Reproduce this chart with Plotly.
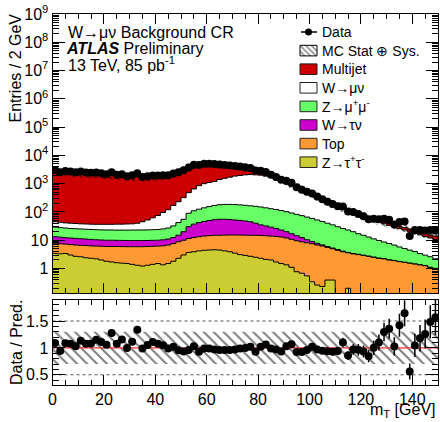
import numpy as np
import plotly.graph_objects as go

# ---------------- data (per 2 GeV bin, bin centres 1..149 GeV) ----------------
bin_edges = list(range(0, 152, 2))

ztautau = [3.4, 3.3, 3.4, 3.0, 2.7, 2.6, 2.4, 2.3, 2.2, 2.0,
           1.8, 1.7, 1.6, 1.55, 1.5, 1.4, 1.3, 1.22, 1.3, 1.4,
           1.5, 1.35, 1.5, 1.8, 2.3, 3.0, 3.7, 3.9, 4.2, 4.4,
           4.5, 4.6, 4.5, 4.2, 3.9, 3.5, 3.1, 2.9, 2.7, 2.5,
           2.3, 2.1, 2.0, 1.7, 1.5, 1.35, 1.1, 0.77, 0.68, 0.55,
           0.34, 0.26, 0.23, 0.39, 0.39, 0, 0, 0.2, 0, 0,
           0, 0, 0, 0, 0, 0, 0, 0, 0, 0, 0, 0, 0, 0, 0]
top = [4.4, 4.2, 3.9, 4.0, 4.1, 4.0, 4.1, 4.0, 4.0, 4.1,
       4.2, 4.3, 4.4, 4.4, 4.4, 4.5, 4.6, 4.7, 4.7, 4.7,
       4.7, 5.0, 5.3, 5.8, 6.5, 7.0, 7.8, 8.6, 9.1, 9.6,
       10.0, 10.4, 10.5, 11.0, 11.4, 11.8, 12.1, 12.2, 12.3, 12.5,
       12.5, 12.3, 12.0, 11.9, 11.5, 10.7, 9.7, 8.8, 8.1, 7.6,
       7.2, 6.5, 6.0, 5.2, 4.6, 4.4, 3.9, 3.4, 3.3, 3.1,
       2.9, 2.7, 2.5, 2.3, 2.2, 2.0, 1.9, 1.75, 1.65, 1.55, 1.45, 1.35, 1.25, 1.1, 1.0]
wtaunu = [5.5, 5.3, 5.0, 5.0, 4.8, 4.7, 4.5, 4.4, 4.2, 4.1,
          4.0, 4.0, 3.9, 3.9, 3.9, 3.8, 3.8, 3.8, 3.8, 3.8,
          3.8, 4.0, 4.2, 4.9, 6.2, 10, 18.5, 24.5, 28.7, 32,
          35.5, 38, 40, 39.8, 38.7, 36.7, 34.8, 32.6, 30, 25,
          20.2, 17.6, 15, 12.4, 10, 8, 6.2, 4.9, 3.7, 2.3,
          1.5, 1.0, 0.6, 0.4, 0.3, 0.3, 0.2, 0.1, 0.1, 0.08,
          0.07, 0.06, 0.05, 0.05, 0.04, 0.04, 0.03, 0.03, 0.03, 0.02, 0.02, 0.02, 0.02, 0.01, 0.01]
zmumu = [15.7, 15.2, 14.7, 14.0, 13.9, 13.7, 13.5, 13.3, 13.1, 13.0,
         13.0, 13.0, 12.9, 13.0, 13.0, 13.2, 13.3, 13.3, 13.4, 13.6,
         14.0, 14.7, 16.0, 19.5, 27, 35, 60, 73, 83, 94,
         105, 117, 125, 130, 131, 130, 128, 124, 120, 118,
         115, 108, 101, 96, 89, 82, 75, 67.5, 61.5, 55.5,
         50, 44.2, 39.2, 34, 29.7, 25.3, 21.9, 19.3, 16.6, 13.8,
         12, 10.2, 8.6, 7.4, 6.4, 5.6, 4.8, 4.0, 3.4, 2.9, 2.5, 2.0, 1.7, 1.5, 1.2]
wmunu = [16, 15, 14, 14, 13.5, 13, 13, 13, 13, 13.3,
         13.5, 13.5, 14.2, 14.2, 14.7, 15.1, 17, 22, 28.8, 38.5,
         51, 70, 93, 138, 188, 265, 390, 540, 725, 860,
         945, 1030, 1220, 1365, 1515, 1668, 1772, 1878, 1935, 1892,
         1850, 1710, 1520, 1278, 1038, 868, 718, 588, 481, 394,
         321, 263, 214, 177, 148, 122, 101, 84, 71, 60.5,
         51.5, 44.5, 38.8, 33.8, 29.4, 25.4, 22.8, 19.7, 17.9, 15.5, 13.5, 12.1, 10.5, 9.4, 8.3]
multijet = [2755, 2657, 2559, 2480, 2401, 2332, 2262, 2193, 2123, 2063,
            2003, 1943, 1883, 1833, 1782, 1742, 1710, 1685, 1678, 1688,
            1725, 1785, 1880, 2080, 2420, 2880, 3420, 3850, 4050, 4100,
            4050, 3900, 3550, 3230, 2880, 2500, 2150, 1750, 1400, 1100,
            800, 600, 450, 380, 330, 250, 190, 140, 105, 80,
            60, 45, 35, 28, 22, 18, 15, 13, 11, 9.5,
            8.5, 7.5, 7, 6.5, 6, 6, 5.5, 5.5, 5, 5, 4.5, 4, 4, 3.5, 3.5]
data = [3050, 2540, 2830, 2720, 2510, 2680, 2480, 2410, 2490, 2330,
        2160, 2530, 2070, 2160, 1820, 1980, 2340, 1710, 1820, 1940,
        1940, 1970, 1980, 2300, 2540, 2980, 3740, 4640, 4560, 5050,
        5100, 4950, 4750, 4590, 4400, 4220, 4060, 3800, 3570, 2930,
        2860, 2600, 2080, 1730, 1380, 1260, 1070, 750, 610, 520,
        450, 350, 280, 230, 190, 160, 156, 103, 99, 84,
        70, 55, 57, 55, 57, 53, 36, 44, 46, 14, 23, 23, 22, 23, 22]
mc_rel_unc = [0.30, 0.30, 0.30, 0.30, 0.30, 0.30, 0.30, 0.30, 0.30, 0.30,
              0.30, 0.30, 0.30, 0.30, 0.30, 0.30, 0.30, 0.30, 0.30, 0.30,
              0.30, 0.30, 0.30, 0.30, 0.30, 0.30, 0.30, 0.30, 0.30, 0.30,
              0.30, 0.30, 0.30, 0.30, 0.30, 0.30, 0.30, 0.30, 0.30, 0.30,
              0.30, 0.30, 0.30, 0.30, 0.30, 0.30, 0.30, 0.30, 0.30, 0.30,
              0.30, 0.30, 0.30, 0.30, 0.30, 0.30, 0.30, 0.30, 0.30, 0.30,
              0.30, 0.30, 0.30, 0.30, 0.30, 0.30, 0.30, 0.30, 0.30, 0.30, 0.30, 0.30, 0.30, 0.30, 0.30]

components = [  # stacking order, bottom first
    ("Z→τ<sup>+</sup>τ<sup>-</sup>", ztautau, "#cccc33"),
    ("Top", top, "#ff9933"),
    ("W→τν", wtaunu, "#cc00cc"),
    ("Z→μ<sup>+</sup>μ<sup>-</sup>", zmumu, "#66ff66"),
    ("W→μν", wmunu, "#ffffff"),
    ("Multijet", multijet, "#cc0000"),
]

# ---------------- geometry (pixels) ----------------
W, H = 440, 422
def px(x): return x / W
def py(y): return 1 - y / H
XL, XR = 52.5, 438
MT, MB = 14, 293
RT, RB = 299.5, 385
FONT = "Liberation Sans, Arial, Helvetica, sans-serif"

edges = np.array(bin_edges, dtype=float)
centers = 0.5 * (edges[:-1] + edges[1:])
def step(v):
    v = np.asarray(v, dtype=float)
    return np.append(v, v[-1])

fig = go.Figure()

# baseline for stacking on log axis
fig.add_trace(go.Scatter(x=edges, y=np.full(len(edges), 1e-3), mode="lines",
                         line=dict(width=0, shape="hv"), xaxis="x", yaxis="y",
                         showlegend=False, hoverinfo="skip"))
cum = np.zeros(len(centers))
for name, vals, col in components:
    cum = cum + np.asarray(vals, dtype=float)
    fig.add_trace(go.Scatter(x=edges, y=step(np.maximum(cum, 1e-3)), mode="lines",
                             line=dict(color="black", width=1, shape="hv"),
                             fill="tonexty", fillcolor=col, xaxis="x", yaxis="y",
                             name=name, showlegend=False, hoverinfo="skip"))
pred = cum.copy()
unc = np.asarray(mc_rel_unc)
data_arr = np.asarray(data, dtype=float)

# MC uncertainty band (main)
fig.add_trace(go.Scatter(x=edges, y=step(pred * (1 - unc)), mode="lines",
                         line=dict(width=0, shape="hv"), xaxis="x", yaxis="y",
                         showlegend=False, hoverinfo="skip"))
fig.add_trace(go.Scatter(x=edges, y=step(pred * (1 + unc)), mode="lines",
                         line=dict(width=0, shape="hv"), fill="tonexty",
                         fillcolor="rgba(0,0,0,0)",
                         fillpattern=dict(shape="\\", fgcolor="black", bgcolor="rgba(0,0,0,0)",
                                          size=5, solidity=0.35),
                         xaxis="x", yaxis="y", showlegend=False, hoverinfo="skip"))
# data (main)
fig.add_trace(go.Scatter(x=centers, y=data_arr, mode="markers",
                         marker=dict(color="black", size=8),
                         error_y=dict(type="data", array=np.sqrt(data_arr), color="black",
                                      thickness=1.5, width=0),
                         xaxis="x", yaxis="y", showlegend=False))

# ratio panel
fig.add_trace(go.Scatter(x=edges, y=step(1 - unc), mode="lines",
                         line=dict(width=0, shape="hv"), xaxis="x2", yaxis="y2",
                         showlegend=False, hoverinfo="skip"))
fig.add_trace(go.Scatter(x=edges, y=step(1 + unc), mode="lines",
                         line=dict(width=0, shape="hv"), fill="tonexty",
                         fillcolor="rgba(0,0,0,0)",
                         fillpattern=dict(shape="\\", fgcolor="black", bgcolor="rgba(0,0,0,0)",
                                          size=7, solidity=0.28),
                         xaxis="x2", yaxis="y2", showlegend=False, hoverinfo="skip"))
for yref in (0.5, 1.5):
    fig.add_trace(go.Scatter(x=[0, 150], y=[yref, yref], mode="lines",
                             line=dict(color="#555555", width=1, dash="dot"),
                             xaxis="x2", yaxis="y2", showlegend=False, hoverinfo="skip"))
fig.add_trace(go.Scatter(x=[0, 150], y=[1, 1], mode="lines",
                         line=dict(color="#ff3333", width=1.2),
                         xaxis="x2", yaxis="y2", showlegend=False, hoverinfo="skip"))
ratio = data_arr / pred
ratio_err = np.sqrt(data_arr) / pred
fig.add_trace(go.Scatter(x=centers, y=ratio, mode="markers",
                         marker=dict(color="black", size=8),
                         error_y=dict(type="data", array=ratio_err, color="black",
                                      thickness=1.5, width=0),
                         xaxis="x2", yaxis="y2", showlegend=False))

# ---------------- manual legend on pixel overlay axes ----------------
leg_rows = [("Data", "data"), ("MC Stat ⊕ Sys.", "hatch"), ("Multijet", "#cc0000"),
            ("W→μν", "#ffffff"), ("Z→μ<sup>+</sup>μ<sup>-</sup>", "#66ff66"),
            ("W→τν", "#cc00cc"), ("Top", "#ff9933"), ("Z→τ<sup>+</sup>τ<sup>-</sup>", "#cccc33")]
bx0, bx1 = 300, 317
row0, pitch = 32, 18.6
annotations = []
for i, (label, kind) in enumerate(leg_rows):
    yc = row0 + i * pitch
    if kind == "data":
        fig.add_trace(go.Scatter(x=[bx0 + 1, bx1], y=[yc, yc], mode="lines",
                                 line=dict(color="black", width=1.5),
                                 xaxis="x3", yaxis="y3", showlegend=False, hoverinfo="skip"))
        fig.add_trace(go.Scatter(x=[(bx0 + bx1) / 2], y=[yc], mode="markers",
                                 marker=dict(color="black", size=7),
                                 xaxis="x3", yaxis="y3", showlegend=False, hoverinfo="skip"))
    else:
        bxs = [bx0, bx1, bx1, bx0, bx0]
        bys = [yc - 5.3, yc - 5.3, yc + 5.3, yc + 5.3, yc - 5.3]
        if kind == "hatch":
            fig.add_trace(go.Scatter(x=bxs, y=bys, mode="lines", fill="toself",
                                     fillcolor="rgba(0,0,0,0)",
                                     fillpattern=dict(shape="\\", fgcolor="black",
                                                      bgcolor="white", size=4, solidity=0.35),
                                     line=dict(color="black", width=1),
                                     xaxis="x3", yaxis="y3", showlegend=False, hoverinfo="skip"))
        else:
            fig.add_trace(go.Scatter(x=bxs, y=bys, mode="lines", fill="toself",
                                     fillcolor=kind, line=dict(color="#222222", width=1),
                                     xaxis="x3", yaxis="y3", showlegend=False, hoverinfo="skip"))
    annotations.append(dict(x=px(320), y=py(yc), xref="paper", yref="paper", text=label,
                            showarrow=False, xanchor="left", yanchor="middle",
                            font=dict(family=FONT, size=14, color="black")))

# ---------------- text ----------------
annotations += [
    dict(x=px(66), y=py(33), xref="paper", yref="paper", text="W→μν Background CR",
         showarrow=False, xanchor="left", yanchor="middle", font=dict(family=FONT, size=16)),
    dict(x=px(64), y=py(48.5), xref="paper", yref="paper",
         text="<b><i>ATLAS</i></b> Preliminary",
         showarrow=False, xanchor="left", yanchor="middle", font=dict(family=FONT, size=16)),
    dict(x=px(66), y=py(64), xref="paper", yref="paper", text="13 TeV, 85 pb<sup>-1</sup>",
         showarrow=False, xanchor="left", yanchor="middle", font=dict(family=FONT, size=16)),
    dict(x=px(15), y=py(12), xref="paper", yref="paper", text="Entries / 2 GeV",
         textangle=-90, showarrow=False, xanchor="center", yanchor="top",
         font=dict(family=FONT, size=16)),
    dict(x=px(16), y=py(343), xref="paper", yref="paper", text="Data / Pred.",
         textangle=-90, showarrow=False, xanchor="center", yanchor="middle",
         font=dict(family=FONT, size=16)),
    dict(x=px(438), y=py(422), xref="paper", yref="paper", text="m<sub>T</sub> [GeV]",
         showarrow=False, xanchor="right", yanchor="bottom", font=dict(family=FONT, size=16)),
]

# ---------------- axes ----------------
major_y = [10.0 ** k for k in range(0, 10)]
major_y_text = ["1", "10"] + ["10<sup>%d</sup>" % k for k in range(2, 10)]
minor_y = [m * 10.0 ** k for k in range(-1, 9) for m in range(2, 10)]

axis_common = dict(showline=True, linecolor="black", linewidth=1, mirror="allticks",
                   ticks="inside", tickcolor="black", showgrid=False, zeroline=False,
                   tickfont=dict(family=FONT, size=16, color="black"))

fig.update_layout(
    width=W, height=H, margin=dict(l=0, r=0, t=0, b=0, autoexpand=False),
    paper_bgcolor="white", plot_bgcolor="rgba(0,0,0,0)",
    showlegend=False, font=dict(family=FONT, color="black"),
    xaxis=dict(domain=[px(XL), px(XR)], range=[0, 150], anchor="y",
               showticklabels=False, tickvals=list(range(0, 151, 20)), ticklen=10,
               minor=dict(dtick=5, tick0=0, ticks="inside", ticklen=5, tickcolor="black"),
               **axis_common),
    yaxis=dict(domain=[py(MB), py(MT)], type="log", range=[np.log10(0.136), 9],
               anchor="x", tickvals=major_y, ticktext=major_y_text, ticklen=12,
               minor=dict(tickvals=minor_y, ticks="inside", ticklen=6, tickcolor="black"),
               **axis_common),
    xaxis2=dict(domain=[px(XL), px(XR)], range=[0, 150], anchor="y2",
                tickvals=list(range(0, 141, 20)), ticklen=10,
                minor=dict(dtick=5, tick0=0, ticks="inside", ticklen=5, tickcolor="black"),
                **axis_common),
    yaxis2=dict(domain=[py(RB), py(RT)], range=[0.31, 1.9], anchor="x2",
                tickvals=[0.5, 1, 1.5], ticktext=["0.5", "1", "1.5"], ticklen=12,
                minor=dict(dtick=0.1, tick0=0, ticks="inside", ticklen=6, tickcolor="black"),
                **axis_common),
    xaxis3=dict(domain=[0, 1], range=[0, W], anchor="y3", visible=False, fixedrange=True),
    yaxis3=dict(domain=[0, 1], range=[H, 0], anchor="x3", visible=False, fixedrange=True),
    annotations=annotations,
)

fig.write_html("out.html", config={"displayModeBar": False},
               post_script="document.body.style.margin='0px';document.body.style.padding='0px';")
